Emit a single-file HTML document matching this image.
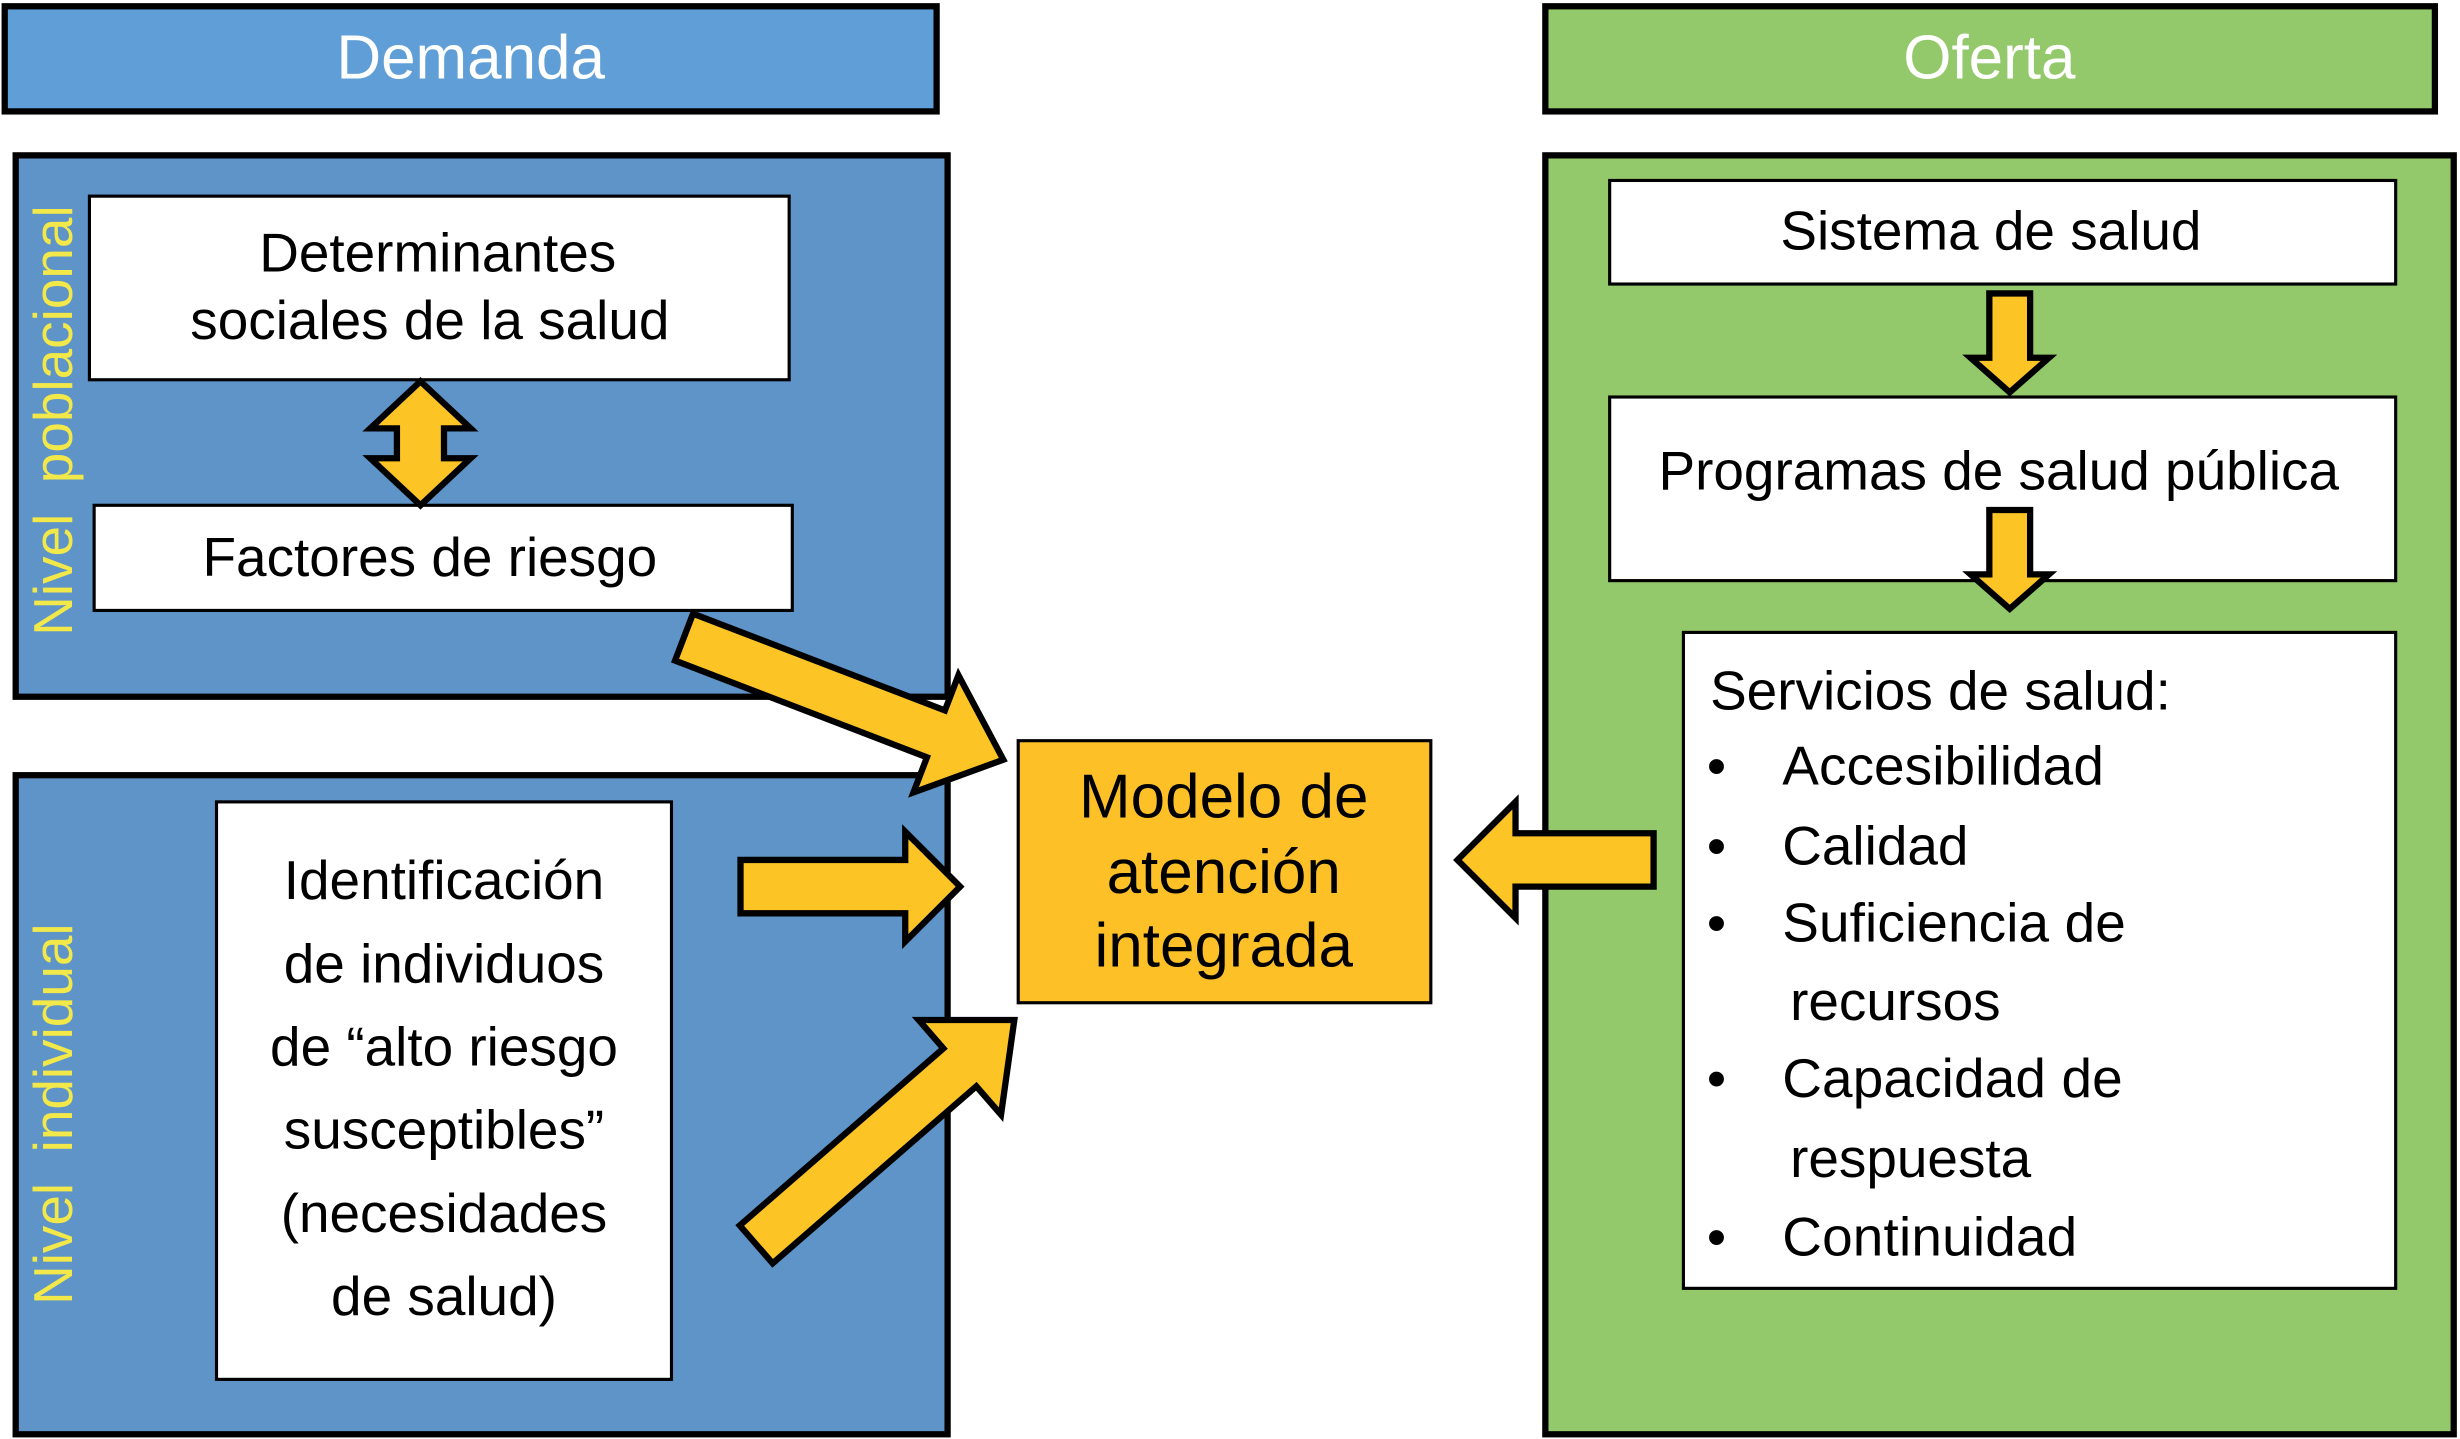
<!DOCTYPE html>
<html><head><meta charset="utf-8"><style>html,body{margin:0;padding:0;background:#fff}svg{display:block}</style></head>
<body>
<svg width="2460" height="1439" viewBox="0 0 1568 917" preserveAspectRatio="none" xmlns="http://www.w3.org/2000/svg" font-family="Liberation Sans, Arial, sans-serif">
<rect width="1568" height="917" fill="#fff"/>
<rect x="3" y="4" width="594" height="67" fill="#5f9ed6" stroke="#000" stroke-width="4"/>
<text x="300" y="50" font-size="39.5" fill="#fff" text-anchor="middle">Demanda</text>
<rect x="985" y="4" width="567" height="67" fill="#93c96b" stroke="#000" stroke-width="4"/>
<text x="1268" y="50" font-size="39.5" fill="#fff" text-anchor="middle">Oferta</text>
<rect x="10" y="99" width="594" height="345" fill="#5e94c7" stroke="#000" stroke-width="4"/>
<rect x="10" y="494" width="594" height="420" fill="#5e94c7" stroke="#000" stroke-width="4"/>
<rect x="985" y="99" width="579" height="815" fill="#93c96b" stroke="#000" stroke-width="4"/>
<text transform="translate(46,268) rotate(-90)" font-size="35" fill="#f2e84a" text-anchor="middle" xml:space="preserve">Nivel  poblacional</text>
<text transform="translate(46,710) rotate(-90)" font-size="35" fill="#f2e84a" text-anchor="middle" xml:space="preserve">Nivel  individual</text>
<rect x="57" y="125" width="446" height="117" fill="#fff" stroke="#000" stroke-width="2"/>
<text x="279" y="173" font-size="35" text-anchor="middle">Determinantes</text>
<text x="274" y="216" font-size="35" text-anchor="middle">sociales de la salud</text>
<rect x="60" y="322" width="445" height="67" fill="#fff" stroke="#000" stroke-width="2"/>
<text x="274" y="367" font-size="35" text-anchor="middle">Factores de riesgo</text>
<rect x="138" y="511" width="290" height="368" fill="#fff" stroke="#000" stroke-width="2"/>
<g font-size="35" text-anchor="middle">
<text x="283" y="573">Identificación</text>
<text x="283" y="626">de individuos</text>
<text x="283" y="679">de “alto riesgo</text>
<text x="283" y="732">susceptibles”</text>
<text x="283" y="785">(necesidades</text>
<text x="283" y="838">de salud)</text>
</g>
<polygon points="268,243 300,273 283,273 283,292 300,292 268,322 236,292 253,292 253,273 236,273" fill="#fdc425" stroke="#000" stroke-width="4"/>
<rect x="649" y="472" width="263" height="167" fill="#fdc127" stroke="#000" stroke-width="2"/>
<g font-size="39.5" text-anchor="middle">
<text x="780" y="521">Modelo de</text>
<text x="780" y="569">atención</text>
<text x="780" y="616">integrada</text>
</g>
<rect x="1026" y="115" width="501" height="66" fill="#fff" stroke="#000" stroke-width="2"/>
<text x="1269" y="159" font-size="35" text-anchor="middle">Sistema de salud</text>
<rect x="1026" y="253" width="501" height="117" fill="#fff" stroke="#000" stroke-width="2"/>
<text x="1274" y="312" font-size="35" text-anchor="middle">Programas de salud pública</text>
<rect x="1073" y="403" width="454" height="418" fill="#fff" stroke="#000" stroke-width="2"/>
<g font-size="35">
<text x="1090" y="452">Servicios de salud:</text>
<text x="1088" y="500">•</text><text x="1136" y="500" textLength="205">Accesibilidad</text>
<text x="1088" y="551">•</text><text x="1136" y="551">Calidad</text>
<text x="1088" y="600">•</text><text x="1136" y="600" textLength="219">Suficiencia de</text>
<text x="1141" y="650">recursos</text>
<text x="1088" y="699">•</text><text x="1136" y="699" textLength="217">Capacidad de</text>
<text x="1141" y="750">respuesta</text>
<text x="1088" y="800">•</text><text x="1136" y="800" textLength="188">Continuidad</text>
</g>
<g fill="#fdc425" stroke="#000" stroke-width="4">
<polygon transform="translate(436,406) rotate(21)" points="0,-16 172,-16 172,-40 218,0 172,40 172,16 0,16"/>
<polygon points="472,548 577,548 577,530 612,565 577,600 577,582 472,582"/>
<polygon transform="translate(482,793) rotate(-41)" points="0,-16 172,-16 172,-40 218,0 172,40 172,16 0,16"/>
<polygon points="1054,531 966,531 966,511 929,548 966,585 966,565 1054,565"/>
<polygon points="1268,187 1294,187 1294,228 1306,228 1281,250 1256,228 1268,228"/>
<polygon points="1268,325 1294,325 1294,366 1306,366 1281,388 1256,366 1268,366"/>
</g>
</svg>
</body></html>
